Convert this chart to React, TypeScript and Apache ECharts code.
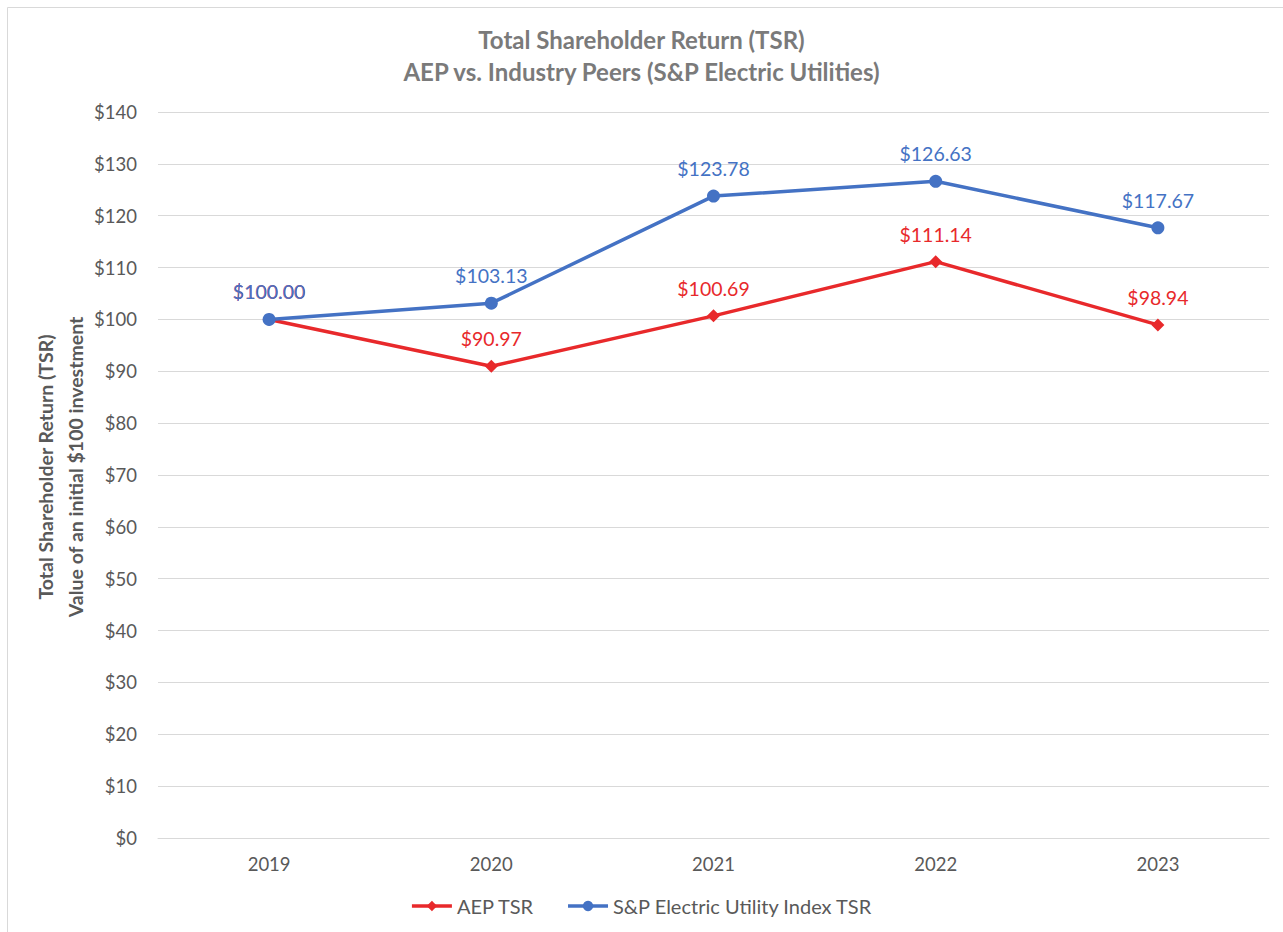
import React, { useEffect, useRef } from "react";
import * as echarts from "echarts";

const years = ["2019", "2020", "2021", "2022", "2023"];
const aepTsr = [100.0, 90.97, 100.69, 111.14, 98.94];
const spTsr = [100.0, 103.13, 123.78, 126.63, 117.67];
const titleLines = ["Total Shareholder Return (TSR)", "AEP vs. Industry Peers (S&P Electric Utilities)"];
const yAxisTitle = ["Total Shareholder Return (TSR)", "Value of an initial $100 investment"];
const seriesNames = ["AEP TSR", "S&P Electric Utility Index TSR"];

const FONT = "Lato, 'Liberation Sans', sans-serif";
const GRAY = "#595959";
const RED = "#e8292b";
const BLUE = "#4472c4";

export default function App() {
  const ref = useRef<HTMLDivElement>(null);
  useEffect(() => {
    if (!ref.current) return;
    const chart = echarts.init(ref.current, null, { renderer: "svg" });
    const fmt = (p: any) => "$" + Number(p.value).toFixed(2);
    chart.setOption({
      animation: false,
      backgroundColor: "#ffffff",
      textStyle: { fontFamily: FONT },
      title: {
        text: titleLines.join("\n"),
        left: "center",
        top: 18,
        textStyle: { fontFamily: FONT, fontSize: 24, fontWeight: "bold", color: "#7a7a7a", lineHeight: 32 },
      },
      graphic: [
        {
          type: "rect",
          shape: { x: 7.5, y: 7.5, width: 1400, height: 1000 },
          style: { fill: "none", stroke: "#d9d9d9", lineWidth: 1 },
          silent: true,
        },
        {
          type: "text",
          x: 60,
          y: 467,
          rotation: Math.PI / 2,
          style: {
            text: yAxisTitle.join("\n"),
            fontFamily: FONT,
            fontSize: 19.5,
            fontWeight: "bold",
            fill: GRAY,
            align: "center",
            verticalAlign: "middle",
            lineHeight: 30,
          },
        },
      ],
      legend: {
        bottom: 11,
        left: "center",
        itemWidth: 40,
        itemHeight: 13,
        itemGap: 32,
        lineStyle: { width: 3.5 },
        textStyle: { fontFamily: FONT, fontSize: 20, color: GRAY },
        data: seriesNames,
      },
      grid: { left: 158, right: 14, top: 112, bottom: 94 },
      xAxis: {
        type: "category",
        data: years,
        boundaryGap: true,
        axisLine: { show: true, lineStyle: { color: "#d9d9d9", width: 1 } },
        axisTick: { show: false },
        axisLabel: { fontFamily: FONT, fontSize: 18.5, color: GRAY, margin: 16 },
      },
      yAxis: {
        type: "value",
        min: 0,
        max: 140,
        interval: 10,
        axisLine: { show: false },
        axisTick: { show: false },
        axisLabel: {
          fontFamily: FONT,
          fontSize: 18.5,
          color: GRAY,
          margin: 21,
          formatter: (v: number) => "$" + v,
        },
        splitLine: { lineStyle: { color: "#d9d9d9", width: 1 } },
      },
      series: [
        {
          name: seriesNames[0],
          type: "line",
          data: aepTsr,
          symbol: "diamond",
          symbolSize: 13,
          color: RED,
          lineStyle: { color: RED, width: 3.5 },
          itemStyle: { color: RED },
          label: {
            show: true,
            position: "top",
            distance: 11,
            formatter: fmt,
            fontFamily: FONT,
            fontSize: 19.5,
            color: RED,
          },
        },
        {
          name: seriesNames[1],
          type: "line",
          data: spTsr,
          symbol: "circle",
          symbolSize: 13,
          color: BLUE,
          lineStyle: { color: BLUE, width: 3.5 },
          itemStyle: { color: BLUE },
          label: {
            show: true,
            position: "top",
            distance: 11,
            formatter: fmt,
            fontFamily: FONT,
            fontSize: 19.5,
            color: BLUE,
          },
        },
      ],
    });
    return () => chart.dispose();
  }, []);
  return (
    <div
      ref={ref}
      style={{ position: "fixed", left: 0, top: 0, width: 1283, height: 932, background: "#fff" }}
    />
  );
}
